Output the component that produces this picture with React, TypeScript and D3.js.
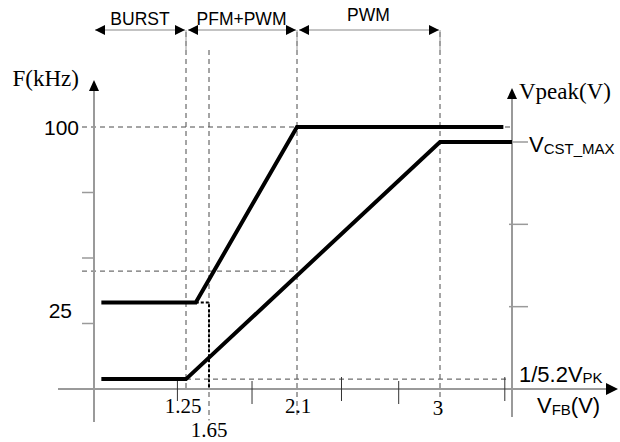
import React from "react";
import * as d3 from "d3";

// ---- data ----
const vfbBreaks = [0.5, 1.25, 1.65, 2.1, 3, 3.5];
const vfbTickValues = [1.25, 1.65, 2.1, 3];
const vfbTickLabels = ["1.25", "1.65", "2.1", "3"];
const vfbGuideBottoms = [0, -0.12, -0.11, -0.04]; // in F-axis fractions below baseline
const vfbMinorTicks = [1.18, 1.87, 2.38, 2.74, 3.45];
const freqVfb = [0.56, 1.42, 2.1, 3.44];
const freqKHz = [33, 33, 100, 100];
const vpeakVfb = [0.56, 1.25, 3, 3.5];
const vpeakNorm = [0.04, 0.04, 1, 1];
const freqTicks = [25, 50, 75];
const freqLabelValues = [100, 30];
const freqLabelTexts = ["100", "25"];
const vpeakTicks = [1 / 3, 2 / 3];
const modeNames = ["BURST", "PFM+PWM", "PWM"];
const modeStart = [0.5, 1.25, 2.1];
const modeEnd = [1.25, 2.1, 3];
const crossoverF = 45;
const burstEdgeVfb = 1.65;
const burstBreakVfb = 1.42;
const burstF = 33;
const vpeakMin = 0.04;
const vpeakMax = 1;

const W = 620;
const H = 442;
const SANS = "'Liberation Sans', Arial, sans-serif";
const SERIF = "'Liberation Serif', 'Times New Roman', serif";

function arrowHead(x: number, y: number, dir: "l" | "r" | "u", len = 10, hw = 5) {
  if (dir === "l") return `M${x},${y}L${x + len},${y - hw}L${x + len},${y + hw}Z`;
  if (dir === "r") return `M${x},${y}L${x - len},${y - hw}L${x - len},${y + hw}Z`;
  return `M${x},${y}L${x - hw},${y + len}L${x + hw},${y + len}Z`;
}

export default function App() {
  const x = d3.scaleLinear().domain(vfbBreaks).range([94, 186, 209, 297, 440, 512]);
  const yF = d3.scaleLinear().domain([0, 100]).range([389, 127]);
  const yV = d3.scaleLinear().domain([0, 1]).range([389, 142]);

  const line = d3.line<[number, number]>().x((d) => d[0]).y((d) => d[1]);
  const fPath = line(freqVfb.map((v, i) => [x(v), yF(freqKHz[i])]))!;
  const vPath = line(vpeakVfb.map((v, i) => [x(v), yV(vpeakNorm[i])]))!;
  const burstPath = line([
    [x(burstBreakVfb), yF(burstF)],
    [x(burstEdgeVfb), yF(burstF)],
    [x(burstEdgeVfb), yF(0)],
  ])!;

  const axisX = x(vfbBreaks[0]);
  const axisR = x(vfbBreaks[vfbBreaks.length - 1]);
  const base = yF(0);
  const arrowY = 30;
  const guideColor = "#4a4a4a";
  const axisColor = "#9a9a9a";

  return (
    <svg width={W} height={H} style={{ position: "absolute", left: 0, top: 0, background: "#fff" }}>
      {/* dashed guides */}
      <g stroke={guideColor} strokeWidth={1} strokeDasharray="5,4" fill="none">
        <line x1={82} x2={axisR} y1={yF(100)} y2={yF(100)} />
        <line x1={82} x2={x(2.1)} y1={yF(crossoverF)} y2={yF(crossoverF)} />
        <line x1={x(1.25)} x2={axisR - 6} y1={yV(vpeakMin)} y2={yV(vpeakMin)} />
        {vfbTickValues.map((v, i) => (
          <line
            key={v}
            x1={x(v)}
            x2={x(v)}
            y1={v === burstEdgeVfb ? 50 : arrowY + 2}
            y2={base - vfbGuideBottoms[i] * 262}
          />
        ))}
      </g>
      {/* solid short upper parts of region separators */}
      <g stroke={axisColor} strokeWidth={1}>
        {[1.25, 2.1, 3].map((v) => (
          <line key={v} x1={x(v)} x2={x(v)} y1={arrowY} y2={50} />
        ))}
      </g>

      {/* axes */}
      <g stroke={axisColor} strokeWidth={2} fill="none">
        <line x1={axisX} x2={axisX} y1={86} y2={422} />
        <line x1={axisR} x2={axisR} y1={94} y2={417} />
        <line x1={58} x2={610} y1={base} y2={base} />
        {freqTicks.map((t) => (
          <line key={t} x1={82} x2={axisX} y1={yF(t)} y2={yF(t)} strokeWidth={1.5} />
        ))}
        {vpeakTicks.map((t) => (
          <line key={t} x1={509} x2={528} y1={yV(t)} y2={yV(t)} strokeWidth={1.5} />
        ))}
        <line x1={axisR} x2={528} y1={yV(vpeakMax)} y2={yV(vpeakMax)} strokeWidth={1.5} />
      </g>
      <g stroke="#333" strokeWidth={1}>
        {vfbMinorTicks.map((t, i) => (
          <line key={t} x1={x(t)} x2={x(t)} y1={i % 2 === 0 ? 377 : 381} y2={i % 2 === 0 ? 401 : 404} />
        ))}
      </g>
      <g fill="#000">
        <path d={arrowHead(axisX, 80, "u", 11, 5)} />
        <path d={arrowHead(axisR, 88, "u", 11, 5)} />
        <path d={arrowHead(618, base, "r", 12, 6)} />
      </g>

      {/* mode arrows */}
      {modeNames.map((m, i) => {
        const a = x(modeStart[i]) + (i === 0 ? 1 : 2);
        const b = x(modeEnd[i]) - 1;
        return (
          <g key={m}>
            <line x1={a} x2={b} y1={arrowY} y2={arrowY} stroke="#888" strokeWidth={1} />
            <path d={arrowHead(a, arrowY, "l", 10, 5)} fill="#000" />
            <path d={arrowHead(b, arrowY, "r", 10, 5)} fill="#000" />
            <text
              x={(x(modeStart[i]) + x(modeEnd[i])) / 2}
              y={i === 2 ? 21 : 25}
              textAnchor="middle"
              fontFamily={SANS}
              fontSize={17.5}
              fill="#000"
            >
              {m}
            </text>
          </g>
        );
      })}

      {/* curves */}
      <path d={burstPath} fill="none" stroke="#000" strokeWidth={2} strokeDasharray="3,2" />
      <path d={fPath} fill="none" stroke="#000" strokeWidth={4} strokeLinejoin="miter" />
      <path d={vPath} fill="none" stroke="#000" strokeWidth={4} strokeLinejoin="miter" />

      {/* labels */}
      <text x={79} y={86} textAnchor="end" fontFamily={SERIF} fontSize={23}>F(kHz)</text>
      <text x={519} y={99} fontFamily={SERIF} fontSize={23}>Vpeak(V)</text>
      {freqLabelValues.map((v, i) => (
        <text key={v} x={i === 0 ? 79 : 72} y={yF(v) + 8} textAnchor="end" fontFamily={SANS} fontSize={21}>
          {freqLabelTexts[i]}
        </text>
      ))}
      {vfbTickValues.map((v, i) => (
        <text
          key={v}
          x={x(v) + (v === 1.25 ? -3 : v === 2.1 ? 1 : v === 3 ? -2 : 0)}
          y={v === burstEdgeVfb ? 437 : v === 3 ? 415 : 413}
          textAnchor="middle"
          fontFamily={SERIF}
          fontSize={21}
        >
          {vfbTickLabels[i]}
        </text>
      ))}
      <text x={529} y={152} fontFamily={SANS} fontSize={22}>
        V<tspan fontSize={15} dy={2}>CST_MAX</tspan>
      </text>
      <text x={519} y={382} fontFamily={SANS} fontSize={22}>
        1/5.2V<tspan fontSize={15} dy={1}>PK</tspan>
      </text>
      <text x={537} y={413} fontFamily={SANS} fontSize={22}>
        V<tspan fontSize={15} dy={2}>FB</tspan>
        <tspan dy={-2}>(V)</tspan>
      </text>
    </svg>
  );
}
